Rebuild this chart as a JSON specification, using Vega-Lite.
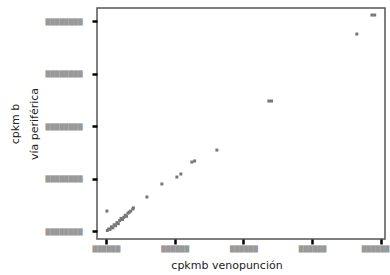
{
  "$schema": "https://vega.github.io/schema/vega-lite/v6.json",
  "width": 288,
  "height": 231,
  "autosize": "none",
  "padding": {"left": 97, "top": 8, "right": 5, "bottom": 36},
  "background": "white",
  "config": {
    "view": {"stroke": "#555555", "strokeWidth": 1.5},
    "axis": {
      "grid": false,
      "domain": false,
      "tickColor": "#000000",
      "tickWidth": 2.5,
      "tickSize": 5,
      "labelFont": "DejaVu Sans",
      "labelColor": "#999999",
      "labelFontSize": 6,
      "titleFont": "DejaVu Sans",
      "titleFontSize": 11,
      "titleFontWeight": "normal",
      "titleColor": "#222222"
    }
  },
  "data": {
    "values": [
      {"x": 0.7, "y": 19},
      {"x": 1, "y": 0.5},
      {"x": 2, "y": 2},
      {"x": 3, "y": 1.5},
      {"x": 4, "y": 4},
      {"x": 5, "y": 3},
      {"x": 6, "y": 6},
      {"x": 7, "y": 5},
      {"x": 8, "y": 8},
      {"x": 9, "y": 7},
      {"x": 10, "y": 10},
      {"x": 11, "y": 12},
      {"x": 12, "y": 11},
      {"x": 13, "y": 13},
      {"x": 14, "y": 15},
      {"x": 15, "y": 14},
      {"x": 16, "y": 17},
      {"x": 17, "y": 18},
      {"x": 18, "y": 19},
      {"x": 19.5, "y": 21},
      {"x": 20, "y": 22},
      {"x": 29.8, "y": 32.4},
      {"x": 40.7, "y": 44.8},
      {"x": 51.6, "y": 51.4},
      {"x": 54.5, "y": 54.3},
      {"x": 62.5, "y": 65.7},
      {"x": 64.5, "y": 66.7},
      {"x": 80.7, "y": 77.1},
      {"x": 118.5, "y": 123.8},
      {"x": 120.5, "y": 123.8},
      {"x": 182.5, "y": 187.6},
      {"x": 193.5, "y": 205.7},
      {"x": 195.5, "y": 205.7}
    ]
  },
  "mark": {"type": "point", "shape": "square", "filled": true, "size": 9, "color": "#777777", "opacity": 1},
  "encoding": {
    "x": {
      "field": "x",
      "type": "quantitative",
      "scale": {"domain": [-6.5, 203], "nice": false, "zero": false},
      "axis": {
        "values": [0, 50, 100, 150, 200],
        "labelExpr": "'██████'",
        "labelPadding": 1,
        "labelFlush": 5,
        "labelFlushOffset": 8,
        "title": "cpkmb venopunción",
        "titlePadding": 8,
        "titleX": 129.5,
        "titleAlign": "center"
      }
    },
    "y": {
      "field": "y",
      "type": "quantitative",
      "scale": {"domain": [-7.6, 212.4], "nice": false, "zero": false},
      "axis": {
        "values": [0, 50, 100, 150, 200],
        "labelExpr": "'████████'",
        "labelPadding": 10,
        "title": ["cpkm b", "vía periférica"],
        "titleLineHeight": 19,
        "titlePadding": 6
      }
    }
  }
}
